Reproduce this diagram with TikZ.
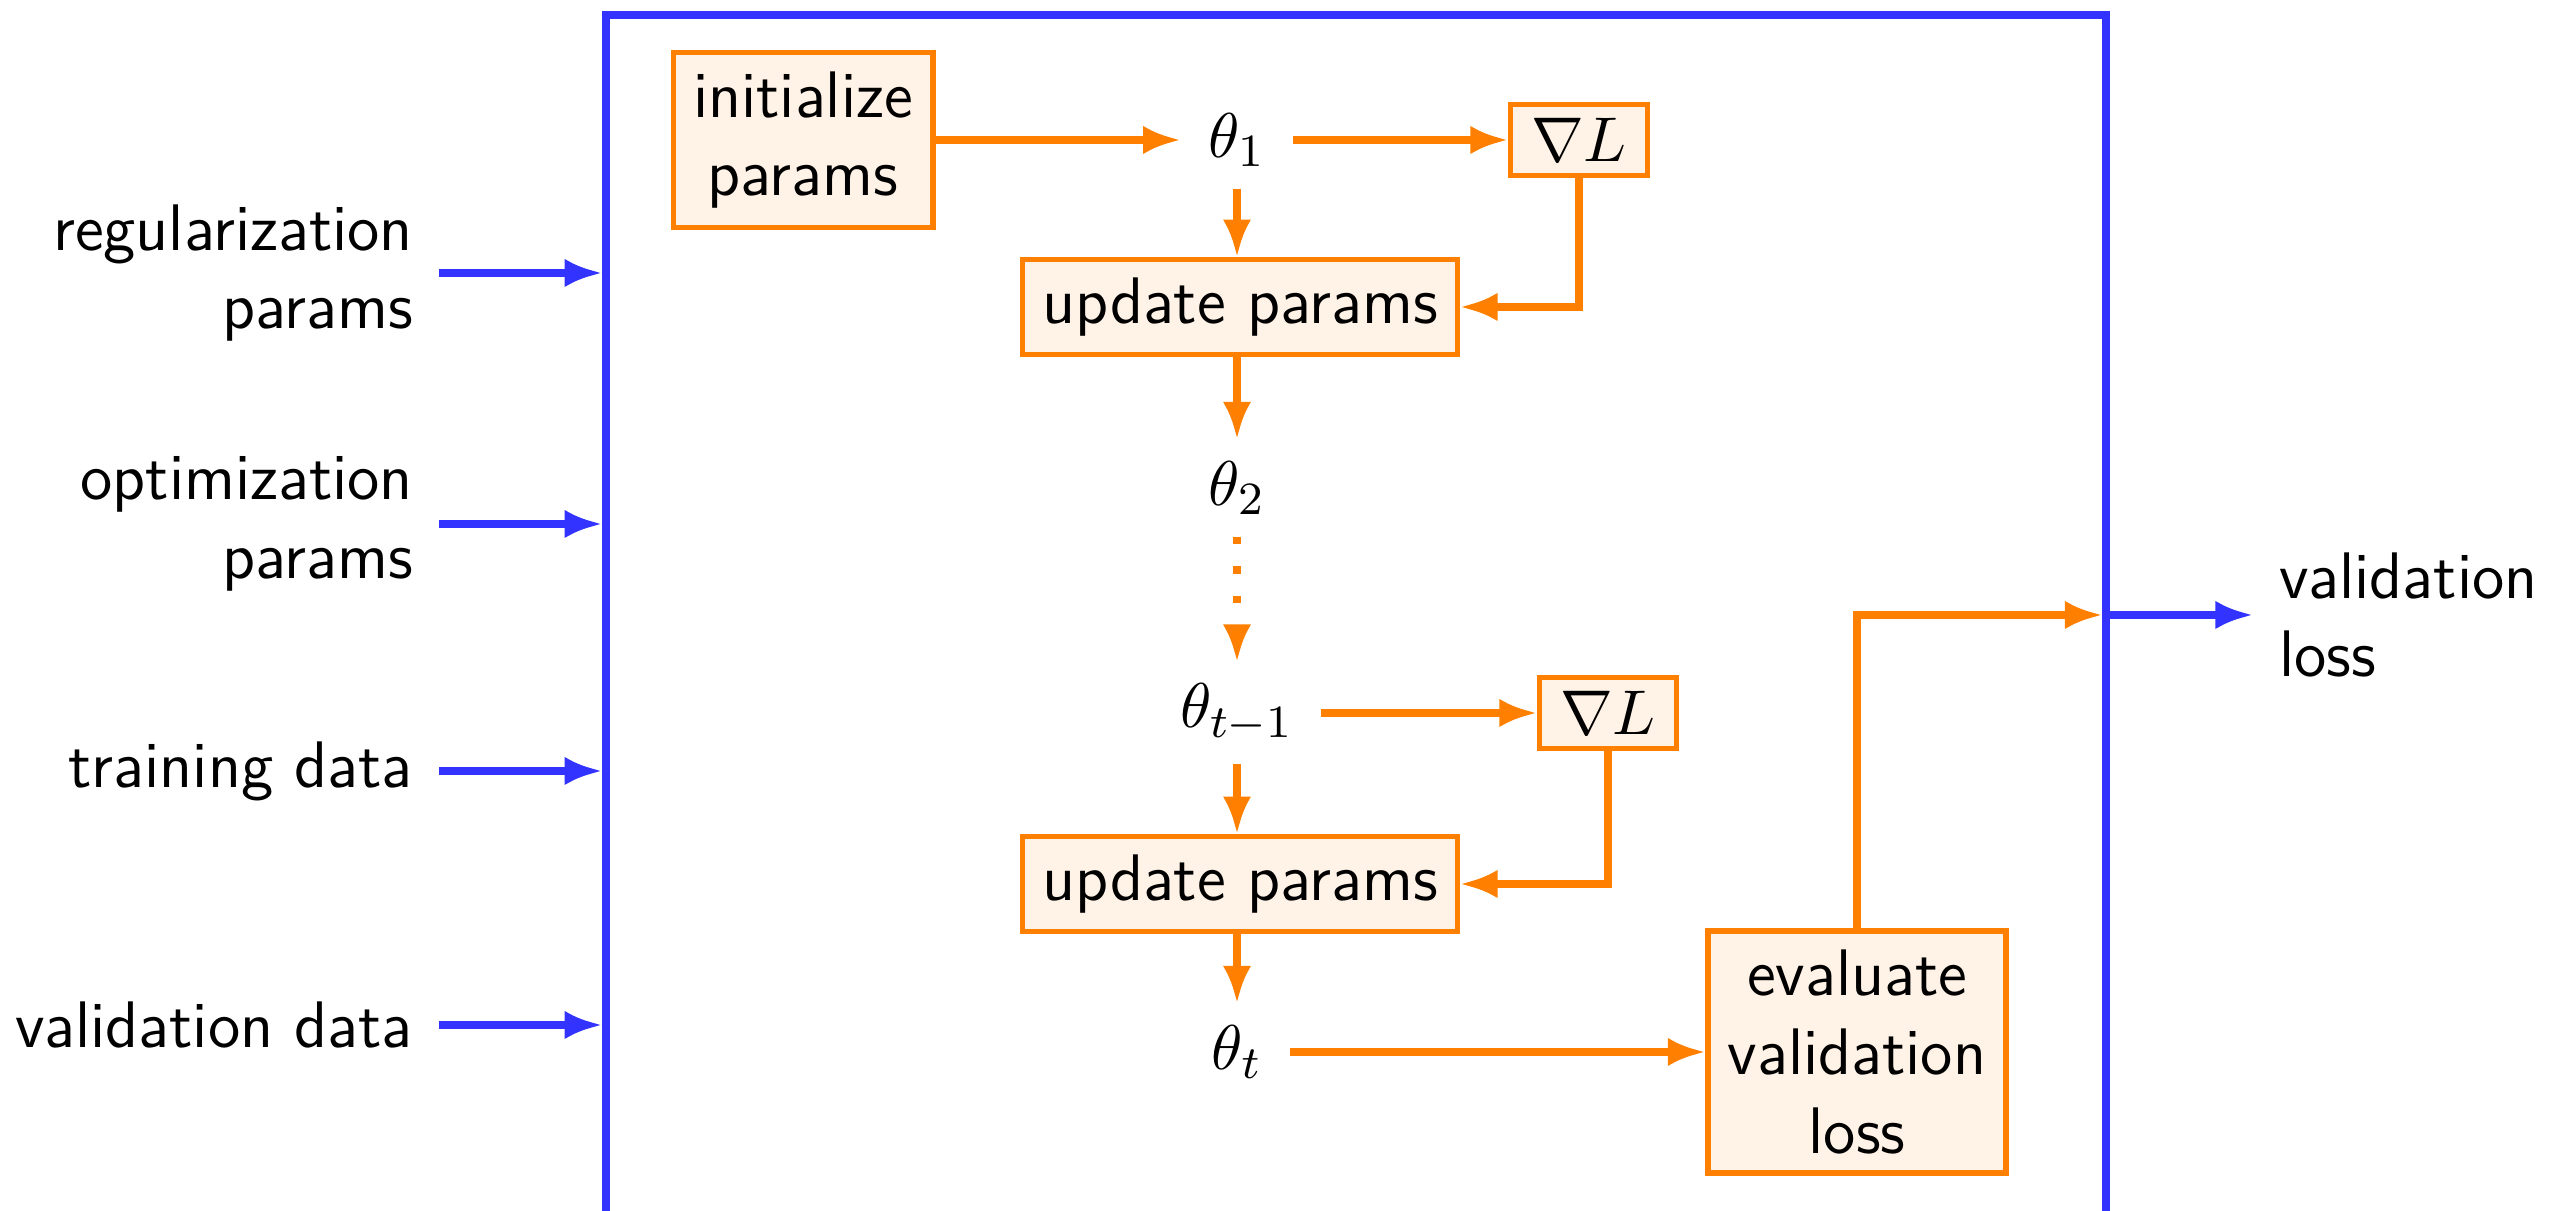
\documentclass[tikz,border=0pt]{standalone}
\usetikzlibrary{arrows.meta,calc}
\definecolor{bblue}{RGB}{51,51,255}
\definecolor{oorange}{RGB}{255,128,0}
\definecolor{ofill}{RGB}{255,242,230}
\begin{document}
\begin{tikzpicture}[x=0.1732pt,y=-0.1732pt,
  font=\fontsize{11.4}{13.6}\selectfont\sffamily,
  obox/.style={draw=oorange,fill=ofill,line width=0.9pt,inner sep=0pt,align=center},
  tip/.style={-{Latex[length=6.5pt,width=4.9pt]}},
  oarr/.style={draw=oorange,line width=1.25pt,tip},
  barr/.style={draw=bblue,line width=1.25pt,tip},
  th/.style={inner xsep=4.6pt,inner ysep=3.6pt},
  lab/.style={inner sep=0pt}
]
\useasboundingbox (0,0) rectangle (2567,1211);
\clip (0,0) rectangle (2567,1211);
% system box
\node[draw=bblue,line width=1.3pt,minimum width=259.8pt,minimum height=240pt,
  anchor=north west,inner sep=0pt,outer sep=0pt] (sys) at (606,15) {};
% inner nodes
\node[obox,minimum width=45pt,minimum height=30.3pt] (init) at (803,140) {initialize\\params};
\node[th] (t1) at (1237,140) {$\theta_1$};
\node[obox,minimum width=23.7pt,minimum height=12.4pt] (g1) at (1579,140) {$\nabla L$};
\node[obox,minimum width=75.3pt,minimum height=16.4pt] (u1) at (1240,307) {update params};
\node[th] (t2) at (1237,488) {$\theta_2$};
\node[th] (tm) at (1237,713) {$\theta_{t-1}$};
\node[obox,minimum width=23.7pt,minimum height=12.4pt] (g2) at (1608,713) {$\nabla L$};
\node[obox,minimum width=75.3pt,minimum height=16.4pt] (u2) at (1240,884) {update params};
\node[th] (tt) at (1237,1052) {$\theta_t$};
\node[obox,minimum width=51.6pt,minimum height=41.9pt] (ev) at (1857,1052) {evaluate\\validation\\loss};
% inner arrows
\draw[oarr] (init.east) -- (t1.west);
\draw[oarr] (t1.east) -- (t1.east -| g1.west);
\draw[oarr] (t1.south) -- (t1.south |- u1.north);
\draw[oarr] (g1.south) |- (u1.east);
\draw[oarr] (u1.south -| t2.north) -- (t2.north);
\draw[oarr,dash pattern=on 1.25pt off 3.9pt] (t2.south) -- (tm.north);
\draw[oarr] (tm.east) -- (tm.east -| g2.west);
\draw[oarr] (tm.south) -- (tm.south |- u2.north);
\draw[oarr] (g2.south) |- (u2.east);
\draw[oarr] (u2.south -| tt.north) -- (tt.north);
\draw[oarr] (tt.east) -- (tt.east -| ev.west);
\coordinate (vin) at (2102.5,615);
\draw[oarr] (ev.north) |- (vin);
% inputs
\node[lab,anchor=east,align=right] (l1) at (414,273) {regularization\\params};
\node[lab,anchor=east,align=right] (l2) at (414,524) {optimization\\params};
\node[lab,anchor=east] (l3) at (414,771) {training data};
\node[lab,anchor=east] (l4) at (414,1025) {validation data};
\foreach \n in {l1,l2,l3,l4}
  \draw[barr,shorten <=4.33pt,shorten >=0.65pt] (\n.east) -- (\n.east -| sys.west);
% output
\node[lab,anchor=west,align=left] (vl) at (2278,615) {validation\\loss};
\coordinate (vout) at (2106,615);
\draw[barr,shorten >=4.33pt] (vout) -- (vl.west);
\end{tikzpicture}
\end{document}
